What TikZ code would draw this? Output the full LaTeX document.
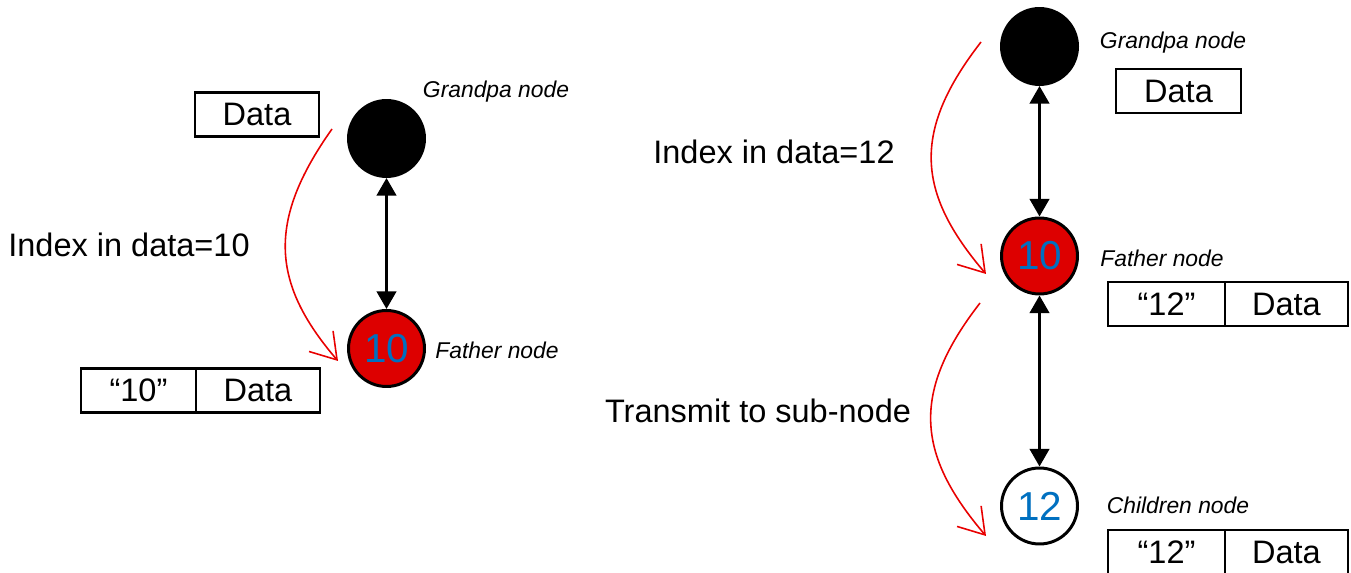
\documentclass[tikz,border=0pt]{standalone}
\usepackage{fontspec}
\setmainfont{Liberation Sans}
\usetikzlibrary{arrows.meta,positioning}
\definecolor{nodered}{RGB}{221,0,0}
\definecolor{numblue}{RGB}{0,112,192}
\definecolor{curvered}{RGB}{232,0,0}
\tikzset{
	bigtext/.style={font=\fontsize{18.5}{22}\selectfont},
	nodelabel/.style={font=\fontsize{13}{15}\selectfont\itshape},
	cellbox/.style={draw, line width=1.4pt, outer sep=0pt, minimum height=0.88cm, inner sep=0pt, bigtext},
	treenode/.style={circle, draw, line width=1.7pt, minimum size=1.52cm, inner sep=0pt, font=\fontsize{23}{27}\selectfont, text=numblue},
	dblarrow/.style={line width=1.7pt, {Triangle[length=10pt,width=11pt]}-{Triangle[length=10pt,width=11pt]}},
	passarrow/.style={draw=curvered, line width=0.9pt, -{Straight Barb[length=14pt,width=18pt,line width=0.9pt]}}
}
\begin{document}
\begin{tikzpicture}[x=0.02cm, y=-0.02cm]
	\useasboundingbox (0,0) rectangle (1351,573);

	% Father gets index from grandpa
	\node[cellbox, minimum width=2.48cm] (dataG) at (257,114.5) {Data};
	\node[treenode, fill=black] (gpL) at (386.5,138.5) {};
	\node[nodelabel] (gpLlab) at (496,92) {Grandpa node};
	\node[treenode, fill=nodered] (faL) at (386.5,348.5) {10};
	\node[nodelabel] (faLlab) at (497,350) {Father node};
	\node[cellbox, minimum width=2.3cm] (keyL) at (138.5,390.5) {“10”};
	\node[cellbox, minimum width=2.48cm, right=0pt of keyL] (dataL) {Data};
	\node[bigtext] (idxL) at (129,245) {Index in data=10};
	\draw[dblarrow] (gpL) -- (faL);
	\coordinate (fromL) at (332,129);
	\coordinate (toL) at (338,361);
	\draw[passarrow] (fromL) .. controls (266,222) and (272,284) .. (toL);

	% Father passes index to children
	\node[treenode, fill=black] (gpR) at (1039.5,46.5) {};
	\node[nodelabel] (gpRlab) at (1173,43) {Grandpa node};
	\node[cellbox, minimum width=2.5cm] (dataR) at (1178.5,91) {Data};
	\node[treenode, fill=nodered] (faR) at (1039.5,256) {10};
	\node[nodelabel] (faRlab) at (1162,258) {Father node};
	\node[cellbox, minimum width=2.34cm] (keyF) at (1166.5,304) {“12”};
	\node[cellbox, minimum width=2.46cm, right=0pt of keyF] (dataF) {Data};
	\node[treenode, fill=white] (chR) at (1039.5,506) {12};
	\node[nodelabel] (chRlab) at (1178,505) {Children node};
	\node[cellbox, minimum width=2.34cm] (keyC) at (1166.5,552) {“12”};
	\node[cellbox, minimum width=2.46cm, right=0pt of keyC] (dataC) {Data};
	\node[bigtext] (idxR) at (774,152) {Index in data=12};
	\node[bigtext] (sendR) at (758,411) {Transmit to sub-node};
	\draw[dblarrow] (gpR) -- (faR);
	\draw[dblarrow] (faR) -- (chR);
	\coordinate (fromR) at (981,42);
	\coordinate (toR) at (986,274);
	\draw[passarrow] (fromR) .. controls (912,131) and (916,192) .. (toR);
	\coordinate (fromC) at (980,303);
	\coordinate (toC) at (986,536);
	\draw[passarrow] (fromC) .. controls (911,392) and (916,454) .. (toC);
\end{tikzpicture}
\end{document}
